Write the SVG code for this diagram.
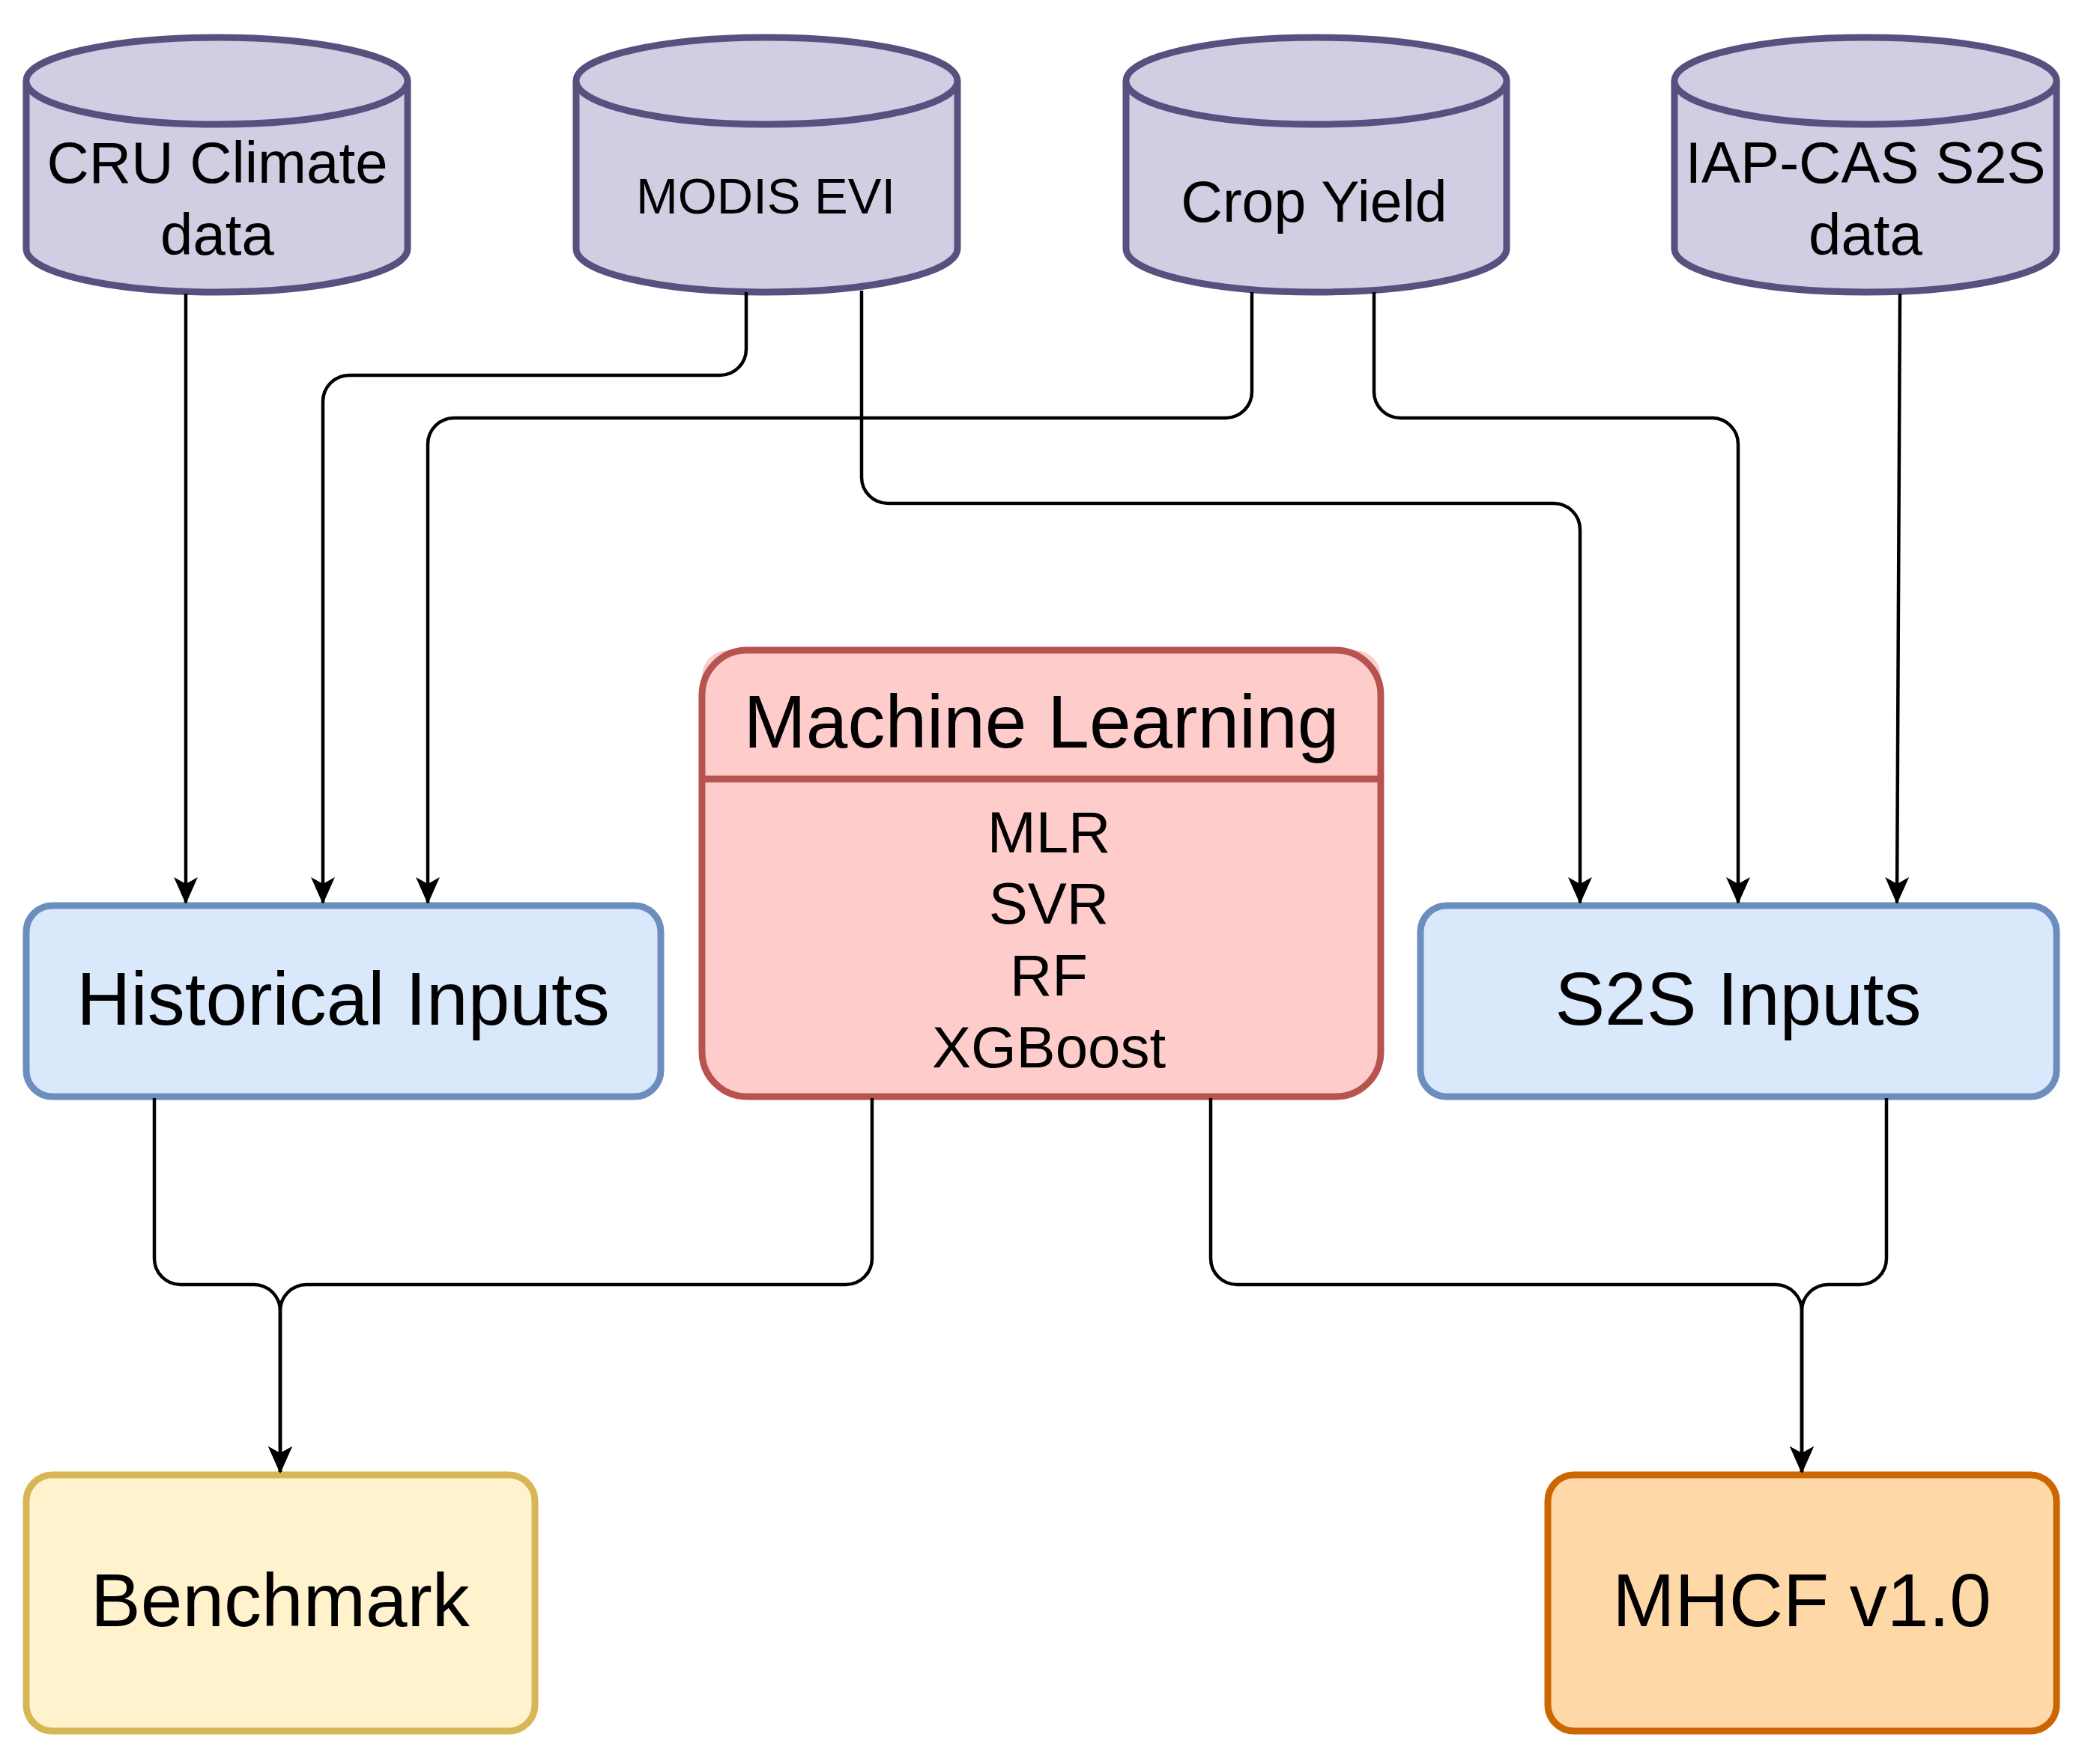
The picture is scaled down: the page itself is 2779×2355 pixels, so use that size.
<svg xmlns="http://www.w3.org/2000/svg" width="2779" height="2355" viewBox="0 0 2779 2355">
<style>
text{font-family:"Liberation Sans",Arial,sans-serif;fill:#000;text-anchor:middle}
.cyl{fill:#d0cee2;stroke:#56517e;stroke-width:9}
.e{fill:none;stroke:#000;stroke-width:4.5}
</style>
<defs>
<marker id="a" markerUnits="userSpaceOnUse" markerWidth="40" markerHeight="40" viewBox="0 0 40 40" refX="34" refY="20" orient="auto">
<path d="M0,4 L36,20 L0,36 L9,20 Z" fill="#000"/>
</marker>
</defs>
<rect width="2779" height="2355" fill="#fff"/>
<g id="cru"><path class="cyl" d="M35,108 A254.5,58 0 0 1 544,108 V332 A254.5,58 0 0 1 35,332 Z"/><path class="cyl" fill="none" d="M35,108 A254.5,58 0 0 0 544,108"/><text x="290" y="244" font-size="78">CRU Climate</text><text x="290" y="340" font-size="78">data</text></g>
<g id="modis"><path class="cyl" d="M769,108 A254.5,58 0 0 1 1278,108 V332 A254.5,58 0 0 1 769,332 Z"/><path class="cyl" d="M769,108 A254.5,58 0 0 0 1278,108"/><text x="1022" y="285" font-size="67">MODIS EVI</text></g>
<g id="crop"><path class="cyl" d="M1503,108 A254,58 0 0 1 2011,108 V332 A254,58 0 0 1 1503,332 Z"/><path class="cyl" d="M1503,108 A254,58 0 0 0 2011,108"/><text x="1754" y="296" font-size="77">Crop Yield</text></g>
<g id="iap"><path class="cyl" d="M2235,108 A255,58 0 0 1 2745,108 V332 A255,58 0 0 1 2235,332 Z"/><path class="cyl" d="M2235,108 A255,58 0 0 0 2745,108"/><text x="2490" y="244" font-size="78">IAP-CAS S2S</text><text x="2490" y="340" font-size="78">data</text></g>
<g id="hist"><rect x="35" y="1209" width="847" height="255" rx="35" fill="#dae8fc" stroke="#6c8ebf" stroke-width="9"/><text x="458" y="1368" font-size="100">Historical Inputs</text></g>
<g id="ml"><path d="M972,868 H1808 A35,35 0 0 1 1843,903 V1040 H937 V903 A35,35 0 0 1 972,868 Z" fill="#f8cecc"/><rect x="937" y="868" width="906" height="596" rx="60" fill="#ffcccc" stroke="#b85450" stroke-width="9"/><line x1="937" y1="1040" x2="1843" y2="1040" stroke="#b85450" stroke-width="9"/><text x="1390" y="998" font-size="100">Machine Learning</text><text x="1400" y="1138" font-size="78">MLR</text><text x="1400" y="1233" font-size="78">SVR</text><text x="1400" y="1329" font-size="78">RF</text><text x="1400" y="1425" font-size="78">XGBoost</text></g>
<g id="s2s"><rect x="1896" y="1209" width="849" height="255" rx="35" fill="#dae8fc" stroke="#6c8ebf" stroke-width="9"/><text x="2320" y="1368" font-size="100">S2S Inputs</text></g>
<g id="bench"><rect x="35" y="1969" width="679" height="342" rx="35" fill="#fff2cc" stroke="#d6b656" stroke-width="9"/><text x="374" y="2171" font-size="100">Benchmark</text></g>
<g id="mhcf"><rect x="2066" y="1969" width="679" height="342" rx="35" fill="#ffd8a8" stroke="#cc6600" stroke-width="9"/><text x="2405" y="2171" font-size="100">MHCF v1.0</text></g>
<g id="connectors" class="e">
<path class="e" marker-end="url(#a)" d="M248,392 V1205"/>
<path class="e" marker-end="url(#a)" d="M996,390 V466 A35,35 0 0 1 961,501 H466 A35,35 0 0 0 431,536 V1205"/>
<path class="e" marker-end="url(#a)" d="M1671,390 V523 A35,35 0 0 1 1636,558 H606 A35,35 0 0 0 571,593 V1205"/>
<path class="e" marker-end="url(#a)" d="M1150,388 V637 A35,35 0 0 0 1185,672 H2074 A35,35 0 0 1 2109,707 V1205"/>
<path class="e" marker-end="url(#a)" d="M1834,390 V523 A35,35 0 0 0 1869,558 H2285 A35,35 0 0 1 2320,593 V1205"/>
<path class="e" marker-end="url(#a)" d="M2536,392 L2532,1205"/>
<path class="e" marker-end="url(#a)" d="M206,1466 V1680 A35,35 0 0 0 241,1715 H339 A35,35 0 0 1 374,1750 V1965"/>
<path class="e" marker-end="url(#a)" d="M1164,1466 V1680 A35,35 0 0 1 1129,1715 H409 A35,35 0 0 0 374,1750 V1965"/>
<path class="e" marker-end="url(#a)" d="M1616,1466 V1680 A35,35 0 0 0 1651,1715 H2370 A35,35 0 0 1 2405,1750 V1965"/>
<path class="e" marker-end="url(#a)" d="M2518,1466 V1680 A35,35 0 0 1 2483,1715 H2440 A35,35 0 0 0 2405,1750 V1965"/>
</g>
</svg>
